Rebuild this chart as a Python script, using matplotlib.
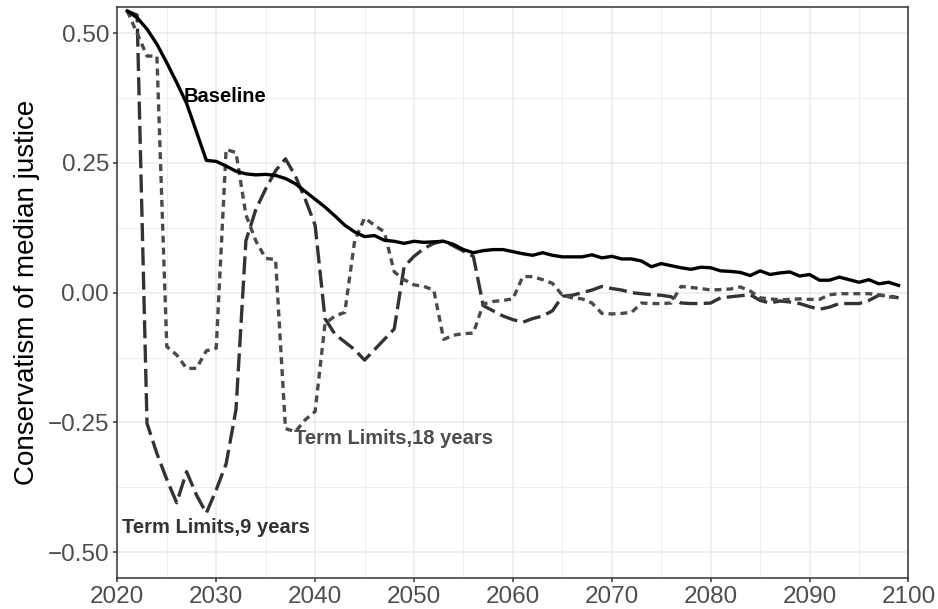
import matplotlib
matplotlib.use("Agg")
import matplotlib.pyplot as plt
import numpy as np

plt.rcParams["font.family"] = ["Liberation Sans", "DejaVu Sans"]
plt.rcParams["lines.scale_dashes"] = False

years = list(range(2021, 2100))

baseline = [
    0.543, 0.530, 0.508, 0.479, 0.443, 0.405, 0.365, 0.310, 0.255, 0.253,
    0.244, 0.234, 0.229, 0.227, 0.228, 0.226, 0.220, 0.210, 0.195, 0.180,
    0.165, 0.148, 0.130, 0.117, 0.108, 0.110, 0.101, 0.099, 0.095, 0.099,
    0.097, 0.098, 0.099, 0.093, 0.083, 0.077, 0.081, 0.083, 0.083, 0.079,
    0.075, 0.072, 0.077, 0.072, 0.069, 0.069, 0.069, 0.073, 0.067, 0.070,
    0.065, 0.065, 0.061, 0.050, 0.056, 0.052, 0.048, 0.045, 0.049, 0.048,
    0.042, 0.041, 0.039, 0.033, 0.042, 0.035, 0.038, 0.040, 0.032, 0.035,
    0.024, 0.024, 0.030, 0.025, 0.020, 0.025, 0.017, 0.020, 0.014,
]

term9 = [
    0.543, 0.535, -0.252, -0.310, -0.360, -0.405, -0.345, -0.390, -0.425, -0.380,
    -0.330, -0.225, 0.100, 0.160, 0.200, 0.235, 0.258, 0.225, 0.180, 0.130,
    -0.050, -0.080, -0.095, -0.110, -0.130, -0.110, -0.090, -0.070, 0.050, 0.070,
    0.085, 0.095, 0.100, 0.090, 0.080, 0.070, -0.025, -0.035, -0.045, -0.052,
    -0.057, -0.050, -0.045, -0.035, -0.007, -0.005, 0.000, 0.005, 0.012, 0.008,
    0.005, 0.000, -0.002, -0.004, -0.005, -0.008, -0.020, -0.021, -0.021, -0.020,
    -0.010, -0.008, -0.006, -0.004, -0.015, -0.020, -0.016, -0.018, -0.021, -0.027,
    -0.032, -0.028, -0.021, -0.021, -0.021, -0.015, -0.005, -0.006, -0.010,
]

term18 = [
    0.543, 0.500, 0.456, 0.456, -0.104, -0.120, -0.146, -0.146, -0.112, -0.107,
    0.276, 0.270, 0.150, 0.100, 0.066, 0.064, -0.262, -0.268, -0.245, -0.229,
    -0.060, -0.045, -0.038, 0.100, 0.144, 0.130, 0.117, 0.040, 0.025, 0.015,
    0.012, 0.005, -0.090, -0.082, -0.079, -0.078, -0.022, -0.017, -0.015, -0.012,
    0.031, 0.031, 0.025, 0.018, -0.005, -0.010, -0.012, -0.020, -0.040, -0.041,
    -0.040, -0.038, -0.020, -0.021, -0.021, -0.020, 0.012, 0.010, 0.008, 0.005,
    0.006, 0.007, 0.011, 0.003, -0.010, -0.012, -0.014, -0.013, -0.012, -0.013,
    -0.013, -0.004, -0.002, -0.002, -0.002, -0.002, -0.004, -0.008, -0.010,
]

x_ticks = [2020, 2030, 2040, 2050, 2060, 2070, 2080, 2090, 2100]
y_ticks = [-0.50, -0.25, 0.00, 0.25, 0.50]

fig = plt.figure(figsize=(9.38, 6.09), dpi=100)
ax = fig.add_axes([0.1251, 0.0509, 0.9685 - 0.1251, 0.988 - 0.0509])

lw = 2.4
ax.plot(years, baseline, color="black", lw=lw, solid_joinstyle="round", zorder=4)
ax.plot(years, term9, color="#333333", lw=lw, linestyle=(0, (13, 4.5)),
        dash_capstyle="butt", zorder=3)
ax.plot(years, term18, color="#4a4a4a", lw=lw, linestyle=(0, (5, 3.6)),
        dash_capstyle="butt", zorder=3)

ax.text(2030.9, 0.378, "Baseline", ha="center", va="center",
        fontsize=14.5, fontweight="bold", color="black")
ax.text(2030.0, -0.452, "Term Limits,9 years", ha="center", va="center",
        fontsize=14.5, fontweight="bold", color="#333333")
ax.text(2047.9, -0.282, "Term Limits,18 years", ha="center", va="center",
        fontsize=14.5, fontweight="bold", color="#4d4d4d")

ax.set_xlim(2020, 2100)
ax.set_ylim(-0.55, 0.55)
ax.set_xticks(x_ticks)
ax.set_xticklabels([str(v) for v in x_ticks])
ax.set_yticks(y_ticks)
ax.set_yticklabels(["\u22120.50", "\u22120.25", "0.00", "0.25", "0.50"])
ax.set_xticks(np.arange(2025, 2100, 10), minor=True)
ax.set_yticks([-0.375, -0.125, 0.125, 0.375], minor=True)

ax.grid(which="major", color="#ebebeb", lw=1.1, zorder=0)
ax.grid(which="minor", color="#ebebeb", lw=0.6, zorder=0)
ax.set_axisbelow(True)

for s in ax.spines.values():
    s.set_color("#333333")
    s.set_linewidth(1.1)

ax.tick_params(which="major", length=3, width=1.1, color="#333333",
               labelsize=17.5, labelcolor="#4d4d4d", pad=3)
ax.tick_params(which="minor", length=0)

ax.set_ylabel("Conservatism of median justice", fontsize=20, color="black",
              labelpad=5)

fig.savefig("out.png", dpi=100)
